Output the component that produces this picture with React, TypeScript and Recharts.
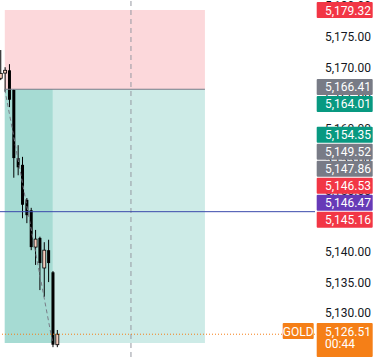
import React from "react";
import {
  Bar,
  ComposedChart,
  ReferenceArea,
  ReferenceLine,
  XAxis,
  YAxis,
} from "recharts";

const W = 378;
const H = 357;
const AXIS_W = 63;
const FONT = "Roboto, 'Open Sans', sans-serif";

const Y_MIN = 5122.8;
const Y_MAX = 5180.95;
const X_MIN = -0.1;
const X_MAX = 72.3;

const PRICE_TICKS = [5125, 5130, 5135, 5140, 5145, 5150, 5155, 5160, 5165, 5170, 5175, 5180];

// candles, oldest first
const BAR_INDEX = [0, 1, 2, 3, 4, 5, 6, 7, 8, 9, 10, 11, 12, 13];
const OPEN = [5168.2, 5169.05, 5169.5, 5166.3, 5155.2, 5154.1, 5148.4, 5146.7, 5140.7, 5142.2, 5137.3, 5140.2, 5136.6, 5124.8];
const HIGH = [5172.8, 5170.0, 5170.5, 5166.4, 5157.3, 5155.4, 5148.7, 5147.1, 5143.5, 5142.4, 5141.5, 5141.9, 5136.8, 5127.2];
const LOW = [5167.9, 5166.0, 5163.5, 5152.0, 5152.4, 5145.4, 5144.6, 5140.2, 5137.8, 5133.7, 5132.6, 5135.0, 5124.4, 5124.4];
const CLOSE = [5169.0, 5169.5, 5164.7, 5155.2, 5153.7, 5147.6, 5145.9, 5140.7, 5142.0, 5138.1, 5140.2, 5138.1, 5124.8, 5126.51];

// short position tool
const ENTRY = 5166.41;
const STOP = 5179.32;
const TARGET = 5125.1;
const POS_START = 1;
const POS_END = 47;
const POS_NOW = 12;

const HLINE_PRICE = 5146.47;
const VLINE_INDEX = 30;
const LAST_PRICE = 5126.51;
const COUNTDOWN = "00:44";

const TAG_PRICES = [5179.32, 5166.41, 5164.01, 5154.35, 5149.52, 5147.86, 5146.53, 5146.47, 5145.16];
const TAG_COLORS = ["#f23645", "#787b86", "#089981", "#089981", "#787b86", "#787b86", "#f23645", "#673ab7", "#f23645"];

const ORANGE = "#f57f17";

const candles = BAR_INDEX.map((i, k) => ({
  i,
  open: OPEN[k],
  high: HIGH[k],
  low: LOW[k],
  close: CLOSE[k],
}));

// push overlapping price tags upward, like the price scale does
const TAG_GAP = (17 * (Y_MAX - Y_MIN)) / H;
const tags = TAG_PRICES.map((p, k) => ({ price: p, color: TAG_COLORS[k], at: p })).sort(
  (a, b) => a.price - b.price
);
for (let k = 1; k < tags.length; k++) {
  tags[k].at = Math.max(tags[k].price, tags[k - 1].at + TAG_GAP);
}
const tagAt = new Map(tags.map((t) => [t.at, t]));
// the last-price tag goes in as a tick too, slightly nudged so it never clashes with a tag key
const LAST_TICK = LAST_PRICE + 1e-7;
// ticks first, tags after, so tags paint over the tick texts
const AXIS_TICKS = [...PRICE_TICKS, ...tags.map((t) => t.at), LAST_TICK];

const fmt = (v: number) =>
  v.toLocaleString("en-US", { minimumFractionDigits: 2, maximumFractionDigits: 2 });

function Candle(props: any) {
  const { x, y, width, height, payload } = props;
  const { open, high, low, close } = payload;
  const range = high - low || 1;
  const up = close >= open;
  const top = y + ((high - Math.max(open, close)) / range) * height;
  const bot = y + ((high - Math.min(open, close)) / range) * height;
  const cx = x + width / 2;
  return (
    <g>
      <line x1={cx} x2={cx} y1={y} y2={y + height} stroke="#000" strokeWidth={1} />
      <rect
        x={x}
        y={top}
        width={width}
        height={Math.max(1, bot - top)}
        fill={up ? "#f6cbbb" : "#000"}
        stroke="#000"
        strokeWidth={up ? 0.8 : 0}
      />
    </g>
  );
}

function AxisTick(props: any) {
  const { x, y, payload } = props;
  const v = payload.value;
  const bx = x - 8.3;
  if (v === LAST_TICK) {
    const top = Math.min(y - 8, H - 34);
    return (
      <g>
        <rect x={bx - 34} y={top} width={31} height={16} fill={ORANGE} rx={1} />
        <text x={bx - 18.5} y={top + 8.5} fill="#fff" fontSize={12} fontFamily={FONT} textAnchor="middle" dominantBaseline="central">
          GOLD
        </text>
        <rect x={bx} y={top} width={56} height={34} fill={ORANGE} rx={1} />
        <text x={x} y={top + 8.5} fill="#fff" fontSize={12} fontFamily={FONT} dominantBaseline="central">
          {fmt(LAST_PRICE)}
        </text>
        <text x={x} y={top + 21} fill="#fff" fontSize={12} fontFamily={FONT} dominantBaseline="central">
          {COUNTDOWN}
        </text>
      </g>
    );
  }
  const tag = tagAt.get(v);
  if (tag) {
    return (
      <g>
        <rect x={bx} y={y - 8} width={56} height={16} fill={tag.color} rx={1} />
        <text x={x} y={y + 0.5} fill="#fff" fontSize={12} fontFamily={FONT} dominantBaseline="central">
          {fmt(tag.price)}
        </text>
      </g>
    );
  }
  return (
    <text x={x} y={y + 0.5} fill="#131722" fontSize={12} fontFamily={FONT} dominantBaseline="central">
      {fmt(v)}
    </text>
  );
}

export default function App() {
  return (
    <div style={{ position: "absolute", left: 0, top: 0, width: W, height: H, background: "#fff" }}>
      <ComposedChart width={W} height={H} data={candles} margin={{ top: 0, right: 0, bottom: 0, left: 0 }}>
        <XAxis dataKey="i" type="number" domain={[X_MIN, X_MAX]} allowDataOverflow hide />
        <YAxis
          orientation="right"
          width={AXIS_W}
          domain={[Y_MIN, Y_MAX]}
          allowDataOverflow
          ticks={AXIS_TICKS}
          interval={0}
          axisLine={false}
          tickLine={false}
          tickSize={0}
          tickMargin={10}
          tick={<AxisTick />}
        />
        <ReferenceArea x1={POS_START} x2={POS_END} y1={ENTRY} y2={STOP} fill="#fcd8db" fillOpacity={1} stroke="none" />
        <ReferenceArea x1={POS_START} x2={POS_END} y1={TARGET} y2={ENTRY} fill="#cdebe7" fillOpacity={1} stroke="none" />
        <ReferenceArea x1={POS_START} x2={POS_NOW} y1={TARGET} y2={ENTRY} fill="#a6dbd3" fillOpacity={1} stroke="none" />
        <ReferenceLine
          segment={[{ x: POS_START, y: ENTRY }, { x: POS_END, y: ENTRY }]}
          stroke="#787b86"
          strokeWidth={1}
        />
        <ReferenceLine
          segment={[{ x: POS_START, y: ENTRY }, { x: POS_NOW, y: TARGET }]}
          stroke="#787b86"
          strokeDasharray="4 3"
          strokeWidth={1}
        />
        <ReferenceLine x={VLINE_INDEX} stroke="#9598a1" strokeDasharray="5 4" strokeWidth={1} />
        <ReferenceLine y={HLINE_PRICE} stroke="#3949ab" strokeWidth={1} />
        <ReferenceLine y={LAST_PRICE} stroke={ORANGE} strokeDasharray="1 2" strokeWidth={1} />
        <Bar dataKey={(d: any) => [d.low, d.high]} barSize={3} shape={Candle} isAnimationActive={false} />
      </ComposedChart>
    </div>
  );
}
